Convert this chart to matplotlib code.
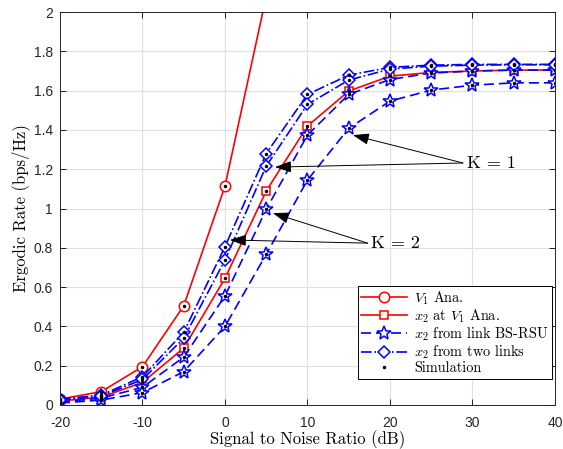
import matplotlib
matplotlib.use('Agg')
import matplotlib.pyplot as plt
import numpy as np

plt.rcParams['mathtext.fontset'] = 'cm'
plt.rcParams['axes.unicode_minus'] = False

snr = [-20, -15, -10, -5, 0, 5, 10, 15, 20, 25, 30, 35, 40]

# V1 analytical (grows beyond the top of the axes after 0 dB)
v1_ana = [0.03, 0.068, 0.195, 0.505, 1.114, 2.08, 3.4, 5.0, 6.6, 8.2, 9.9, 11.5, 13.2]
# x2 at V1
x2_v1 = [0.02, 0.04, 0.115, 0.29, 0.645, 1.089, 1.42, 1.598, 1.674, 1.693, 1.70, 1.705, 1.705]
# x2 from link BS-RSU, K = 2 and K = 1
x2_bs_k2 = [0.015, 0.035, 0.09, 0.244, 0.555, 0.996, 1.374, 1.581, 1.657, 1.69, 1.70, 1.705, 1.705]
x2_bs_k1 = [0.01, 0.025, 0.063, 0.17, 0.40, 0.767, 1.145, 1.408, 1.547, 1.603, 1.628, 1.64, 1.64]
# x2 from two links, K = 2 and K = 1
x2_two_k2 = [0.03, 0.05, 0.144, 0.37, 0.806, 1.28, 1.581, 1.679, 1.719, 1.73, 1.734, 1.734, 1.734]
x2_two_k1 = [0.025, 0.045, 0.13, 0.34, 0.738, 1.216, 1.530, 1.654, 1.71, 1.725, 1.73, 1.732, 1.732]

fig = plt.figure(figsize=(5.63, 4.49), dpi=100)
ax = fig.add_axes([0.1066, 0.098, 0.879, 0.875])

red = (1, 0, 0)
blue = (0, 0, 1)
dash = (0, (6, 3))

ax.plot(snr, v1_ana, '-', color=red, lw=1.2, marker='o', ms=7.5, mfc='white', mew=1.1,
        label=r'$V_1$ Ana.')
ax.plot(snr, x2_v1, '-', color=red, lw=1.2, marker='s', ms=6, mfc='white', mew=1.1,
        label=r'$x_2$ at $V_1$ Ana.')
ax.plot(snr, x2_bs_k2, ls=dash, color=blue, lw=1.2, marker='*', ms=10, mfc='white', mew=1.1,
        label=r'$x_2$ from link BS-RSU')
ax.plot(snr, x2_bs_k1, ls=dash, color=blue, lw=1.2, marker='*', ms=10, mfc='white', mew=1.1)
ax.plot(snr, x2_two_k2, ls='-.', color=blue, lw=1.2, marker='D', ms=6, mfc='white', mew=1.1,
        label=r'$x_2$ from two links')
ax.plot(snr, x2_two_k1, ls='-.', color=blue, lw=1.2, marker='D', ms=6, mfc='white', mew=1.1)

# simulation points
for i, ys in enumerate([v1_ana, x2_v1, x2_bs_k2, x2_bs_k1, x2_two_k2, x2_two_k1]):
    ax.plot(snr, ys, 'k.', ms=3, label='Simulation' if i == 0 else None)

ax.set_xlim(-20, 40)
ax.set_ylim(0, 2)
ax.set_xticks(np.arange(-20, 41, 10))
ax.set_yticks(np.arange(0, 2.01, 0.2))
ax.set_yticklabels(['0', '0.2', '0.4', '0.6', '0.8', '1', '1.2', '1.4', '1.6', '1.8', '2'])
ax.grid(True, color=(0.88, 0.88, 0.88), lw=0.8)
ax.set_axisbelow(True)
ax.tick_params(direction='in', top=True, right=True, labelsize=10, length=4, width=0.6)
ax.tick_params(axis='x', pad=8)
ax.tick_params(axis='y', pad=5)
for lab in ax.get_xticklabels() + ax.get_yticklabels():
    lab.set_fontfamily('Liberation Sans')
    lab.set_color((0.15, 0.15, 0.15))
for sp in ax.spines.values():
    sp.set_linewidth(0.7)
    sp.set_color((0.15, 0.15, 0.15))

ax.set_xlabel('Signal to Noise Ratio (dB)', fontfamily='cmr10', fontsize=12, labelpad=0)
ax.set_ylabel('Ergodic Rate (bps/Hz)', fontfamily='cmr10', fontsize=12, labelpad=3)

arrow = dict(arrowstyle='-|>,head_length=1.0,head_width=0.35', color='black', lw=0.7,
             shrinkA=0, shrinkB=0)
ax.annotate('', xy=(15.5, 1.374), xytext=(28.85, 1.232), arrowprops=arrow)
ax.annotate('', xy=(6.06, 1.211), xytext=(28.85, 1.232), arrowprops=arrow)
ax.text(29.3, 1.232, 'K = 1', fontfamily='cmr10', fontsize=13, va='center', ha='left')
ax.annotate('', xy=(5.8, 0.977), xytext=(17.3, 0.824), arrowprops=arrow)
ax.annotate('', xy=(0.6, 0.84), xytext=(17.3, 0.824), arrowprops=arrow)
ax.text(17.7, 0.824, 'K = 2', fontfamily='cmr10', fontsize=13, va='center', ha='left')

leg = ax.legend(loc='lower right', bbox_to_anchor=(0.994, 0.066), borderaxespad=0,
                fancybox=False, framealpha=1, edgecolor='black', handlelength=3.2,
                borderpad=0.25, labelspacing=0.05, handletextpad=0.5,
                prop={'family': 'cmr10', 'size': 10.3})
leg.get_frame().set_linewidth(0.7)

fig.savefig('out.png', dpi=100)
